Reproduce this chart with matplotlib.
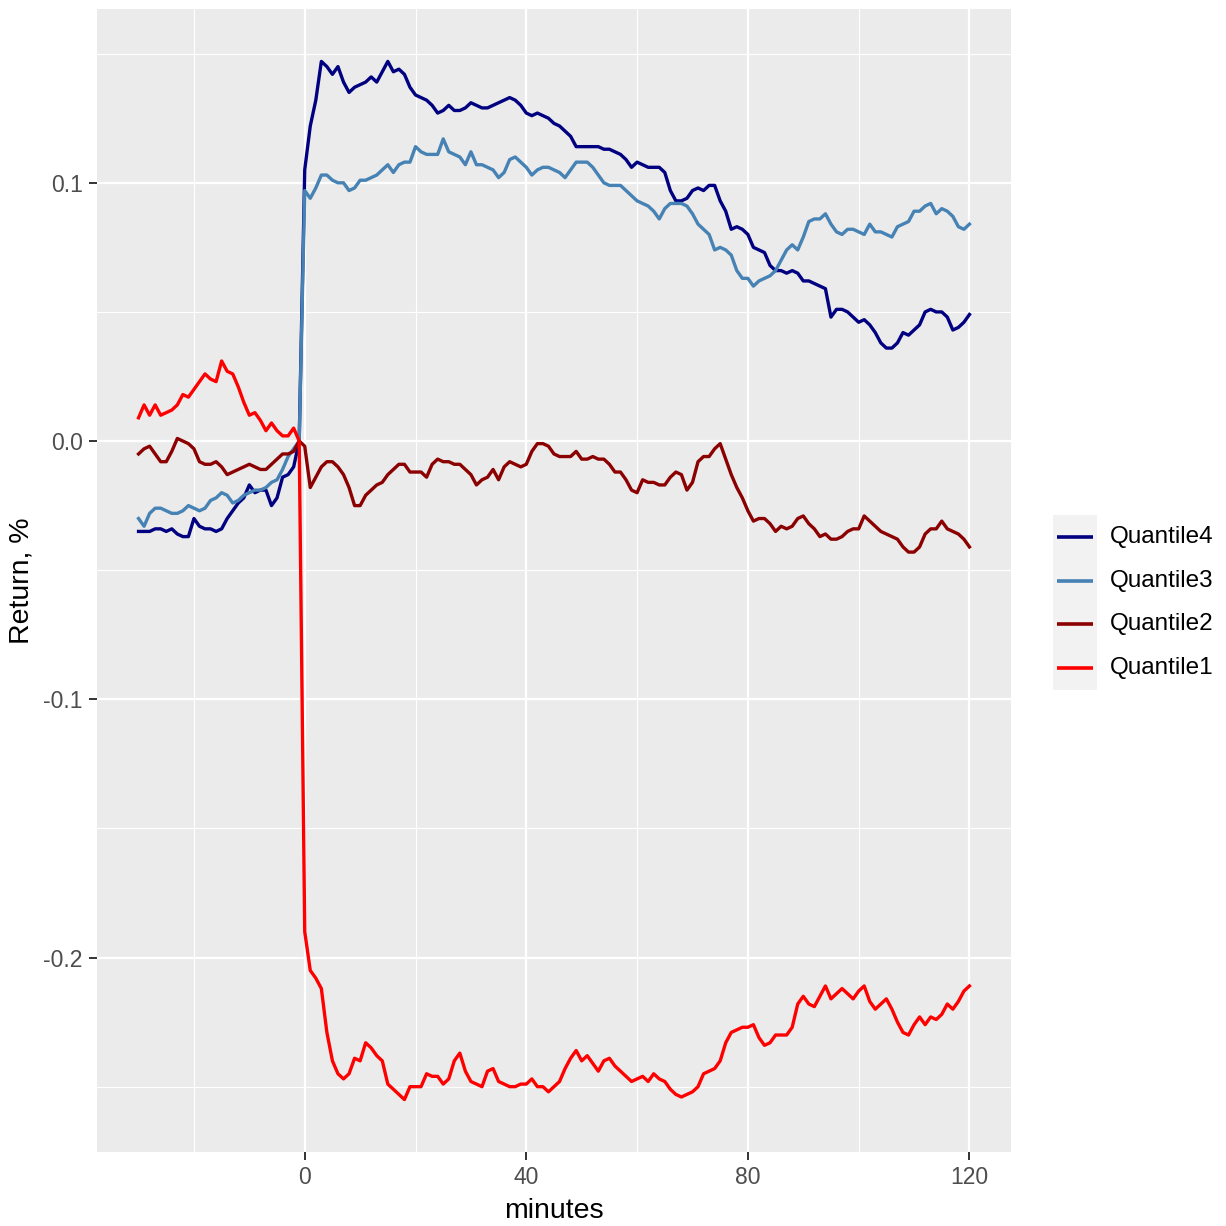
import numpy as np
import matplotlib
matplotlib.use('Agg')
import matplotlib.pyplot as plt
from matplotlib.ticker import FixedLocator

plt.rcParams['font.family'] = ['Liberation Sans', 'DejaVu Sans']

# minutes relative to the event
minutes = list(range(-30, 121))

# mean return, %, per quantile
q1 = [0.009, 0.014, 0.010, 0.014, 0.010, 0.011, 0.012, 0.014, 0.018, 0.017,
      0.020, 0.023, 0.026, 0.024, 0.023, 0.031, 0.027, 0.026, 0.021, 0.015,
      0.010, 0.011, 0.008, 0.004, 0.007, 0.004, 0.002, 0.002, 0.005, 0.000,
      -0.190, -0.205, -0.208, -0.212, -0.229, -0.240, -0.245, -0.247, -0.245, -0.239,
      -0.240, -0.233, -0.235, -0.238, -0.240, -0.249, -0.251, -0.253, -0.255, -0.250,
      -0.250, -0.250, -0.245, -0.246, -0.246, -0.249, -0.247, -0.240, -0.237, -0.244,
      -0.248, -0.249, -0.250, -0.244, -0.243, -0.248, -0.249, -0.250, -0.250, -0.249,
      -0.249, -0.247, -0.250, -0.250, -0.252, -0.250, -0.248, -0.243, -0.239, -0.236,
      -0.240, -0.238, -0.241, -0.244, -0.240, -0.239, -0.242, -0.244, -0.246, -0.248,
      -0.247, -0.246, -0.248, -0.245, -0.247, -0.248, -0.251, -0.253, -0.254, -0.253,
      -0.252, -0.250, -0.245, -0.244, -0.243, -0.240, -0.233, -0.229, -0.228, -0.227,
      -0.227, -0.226, -0.231, -0.234, -0.233, -0.230, -0.230, -0.230, -0.227, -0.218,
      -0.215, -0.218, -0.219, -0.215, -0.211, -0.216, -0.214, -0.212, -0.214, -0.216,
      -0.213, -0.211, -0.217, -0.220, -0.218, -0.216, -0.220, -0.225, -0.229, -0.230,
      -0.226, -0.223, -0.226, -0.223, -0.224, -0.222, -0.218, -0.220, -0.217, -0.213,
      -0.211]

q2 = [-0.005, -0.003, -0.002, -0.005, -0.008, -0.008, -0.004, 0.001, 0.000, -0.001,
      -0.003, -0.008, -0.009, -0.009, -0.008, -0.010, -0.013, -0.012, -0.011, -0.010,
      -0.009, -0.010, -0.011, -0.011, -0.009, -0.007, -0.005, -0.005, -0.004, 0.000,
      -0.002, -0.018, -0.014, -0.010, -0.008, -0.008, -0.010, -0.013, -0.018, -0.025,
      -0.025, -0.021, -0.019, -0.017, -0.016, -0.013, -0.011, -0.009, -0.009, -0.012,
      -0.012, -0.012, -0.014, -0.009, -0.007, -0.008, -0.008, -0.009, -0.009, -0.011,
      -0.013, -0.017, -0.015, -0.014, -0.011, -0.015, -0.010, -0.008, -0.009, -0.010,
      -0.009, -0.004, -0.001, -0.001, -0.002, -0.005, -0.006, -0.006, -0.006, -0.004,
      -0.007, -0.007, -0.006, -0.007, -0.007, -0.009, -0.012, -0.012, -0.015, -0.019,
      -0.020, -0.015, -0.016, -0.016, -0.017, -0.017, -0.014, -0.012, -0.013, -0.019,
      -0.016, -0.008, -0.006, -0.006, -0.003, -0.001, -0.007, -0.013, -0.018, -0.022,
      -0.027, -0.031, -0.030, -0.030, -0.032, -0.035, -0.033, -0.034, -0.033, -0.030,
      -0.029, -0.032, -0.034, -0.037, -0.036, -0.038, -0.038, -0.037, -0.035, -0.034,
      -0.034, -0.029, -0.031, -0.033, -0.035, -0.036, -0.037, -0.038, -0.041, -0.043,
      -0.043, -0.041, -0.036, -0.034, -0.034, -0.031, -0.034, -0.035, -0.036, -0.038,
      -0.041]

q3 = [-0.030, -0.033, -0.028, -0.026, -0.026, -0.027, -0.028, -0.028, -0.027, -0.025,
      -0.026, -0.027, -0.026, -0.023, -0.022, -0.020, -0.021, -0.024, -0.023, -0.021,
      -0.020, -0.019, -0.019, -0.018, -0.016, -0.015, -0.011, -0.006, -0.003, 0.000,
      0.097, 0.094, 0.098, 0.103, 0.103, 0.101, 0.100, 0.100, 0.097, 0.098,
      0.101, 0.101, 0.102, 0.103, 0.105, 0.107, 0.104, 0.107, 0.108, 0.108,
      0.114, 0.112, 0.111, 0.111, 0.111, 0.117, 0.112, 0.111, 0.110, 0.107,
      0.112, 0.107, 0.107, 0.106, 0.105, 0.102, 0.104, 0.109, 0.110, 0.108,
      0.106, 0.103, 0.105, 0.106, 0.106, 0.105, 0.104, 0.102, 0.105, 0.108,
      0.108, 0.108, 0.106, 0.103, 0.100, 0.099, 0.099, 0.099, 0.097, 0.095,
      0.093, 0.092, 0.091, 0.089, 0.086, 0.090, 0.092, 0.092, 0.092, 0.091,
      0.088, 0.084, 0.082, 0.080, 0.074, 0.075, 0.074, 0.072, 0.066, 0.063,
      0.063, 0.060, 0.062, 0.063, 0.064, 0.066, 0.070, 0.074, 0.076, 0.074,
      0.079, 0.085, 0.086, 0.086, 0.088, 0.084, 0.081, 0.080, 0.082, 0.082,
      0.081, 0.080, 0.084, 0.081, 0.081, 0.080, 0.079, 0.083, 0.084, 0.085,
      0.089, 0.089, 0.091, 0.092, 0.088, 0.090, 0.089, 0.087, 0.083, 0.082,
      0.084]

q4 = [-0.035, -0.035, -0.035, -0.034, -0.034, -0.035, -0.034, -0.036, -0.037, -0.037,
      -0.030, -0.033, -0.034, -0.034, -0.035, -0.034, -0.030, -0.027, -0.024, -0.022,
      -0.017, -0.020, -0.019, -0.019, -0.025, -0.022, -0.014, -0.013, -0.010, 0.000,
      0.105, 0.122, 0.132, 0.147, 0.145, 0.142, 0.145, 0.139, 0.135, 0.137,
      0.138, 0.139, 0.141, 0.139, 0.143, 0.147, 0.143, 0.144, 0.142, 0.137,
      0.134, 0.133, 0.132, 0.130, 0.127, 0.128, 0.130, 0.128, 0.128, 0.129,
      0.131, 0.130, 0.129, 0.129, 0.130, 0.131, 0.132, 0.133, 0.132, 0.130,
      0.127, 0.126, 0.127, 0.126, 0.125, 0.123, 0.122, 0.120, 0.118, 0.114,
      0.114, 0.114, 0.114, 0.114, 0.113, 0.113, 0.112, 0.111, 0.109, 0.106,
      0.108, 0.107, 0.106, 0.106, 0.106, 0.104, 0.097, 0.093, 0.093, 0.094,
      0.097, 0.098, 0.097, 0.099, 0.099, 0.093, 0.089, 0.082, 0.083, 0.082,
      0.080, 0.075, 0.074, 0.073, 0.068, 0.066, 0.066, 0.065, 0.066, 0.065,
      0.062, 0.062, 0.061, 0.060, 0.059, 0.048, 0.051, 0.051, 0.050, 0.048,
      0.046, 0.047, 0.045, 0.042, 0.038, 0.036, 0.036, 0.038, 0.042, 0.041,
      0.043, 0.045, 0.050, 0.051, 0.050, 0.050, 0.048, 0.043, 0.044, 0.046,
      0.049]

labels = ['Quantile4', 'Quantile3', 'Quantile2', 'Quantile1']
series = [q4, q3, q2, q1]
colors = ['#000080', '#4682B4', '#8B0000', '#FF0000']

W = 1226
fig = plt.figure(figsize=(12.26, 12.26), dpi=100)
L, R, T, B = 97, 1011, 9, 1152
ax = fig.add_axes([L / W, 1 - B / W, (R - L) / W, (B - T) / W])
ax.set_facecolor('#EBEBEB')

for s, c in zip(series, colors):
    ax.plot(minutes, s, color=c, lw=2.4, solid_joinstyle='round', zorder=3)

ax.set_xlim(-37.5, 127.5)
ax.set_ylim(-0.2753, 0.1673)
ax.xaxis.set_major_locator(FixedLocator([0, 40, 80, 120]))
ax.xaxis.set_minor_locator(FixedLocator([-20, 20, 60, 100]))
ax.yaxis.set_major_locator(FixedLocator([-0.2, -0.1, 0.0, 0.1]))
ax.yaxis.set_minor_locator(FixedLocator([-0.25, -0.15, -0.05, 0.05, 0.15]))
ax.set_yticklabels(['-0.2', '-0.1', '0.0', '0.1'])

ax.grid(which='major', color='white', lw=1.6)
ax.grid(which='minor', color='white', lw=0.8)
ax.set_axisbelow(True)
for sp in ax.spines.values():
    sp.set_visible(False)
ax.tick_params(which='major', length=5.8, width=1.4, color='#333333',
               labelsize=16.5, labelcolor='#4D4D4D', pad=4.5)
ax.tick_params(which='minor', length=0)

ax.set_xlabel('minutes', fontsize=20.5, color='black')
ax.set_ylabel('Return, %', fontsize=20.5, color='black')
ax.xaxis.set_label_coords(0.5, -0.040)
ax.yaxis.set_label_coords(-0.068, 0.5)

# legend drawn ggplot-style: grey key boxes with labels to the right
kx0, kx1, ky0, ky1 = 1053, 1097, 515, 690
lax = fig.add_axes([kx0 / W, 1 - ky1 / W, (kx1 - kx0) / W, (ky1 - ky0) / W])
lax.set_facecolor('#F2F2F2')
lax.set_xlim(0, 1)
lax.set_ylim(0, len(labels))
lax.set_xticks([])
lax.set_yticks([])
for sp in lax.spines.values():
    sp.set_visible(False)
for i, (lab, c) in enumerate(zip(labels, colors)):
    yk = len(labels) - i - 0.5
    lax.plot([0.1, 0.9], [yk, yk], color=c, lw=2.6, solid_capstyle='butt')
    lax.text(1.3, yk, lab, fontsize=17.5, va='center', ha='left',
             color='black', clip_on=False)

fig.savefig('out.png', dpi=100)
